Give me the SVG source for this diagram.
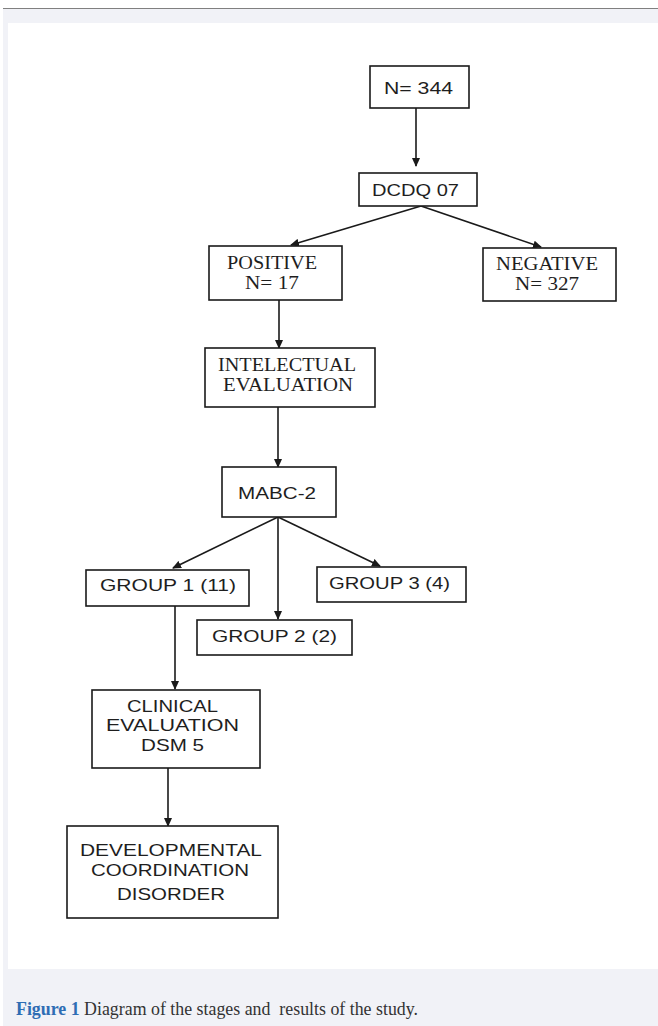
<svg xmlns="http://www.w3.org/2000/svg" width="658" height="1026" viewBox="0 0 658 1026">
<style>
.box{fill:#fff;stroke:#1a1a1a;stroke-width:1.6}
.sans{font-family:"Liberation Sans",Arial,sans-serif;font-size:17px;fill:#1e1e1e}
.serif{font-family:"Liberation Serif","Times New Roman",serif;font-size:18px;fill:#1e1e1e}
.edge{stroke:#1a1a1a;stroke-width:1.6;fill:none;marker-end:url(#ah)}
</style>
<defs>
<marker id="ah" markerWidth="9" markerHeight="9" refX="8" refY="4.5" orient="auto" markerUnits="userSpaceOnUse">
<path d="M0,0.5 L9,4.5 L0,8.5 Z" fill="#1a1a1a"/>
</marker>
</defs>
<rect x="3" y="8" width="655" height="1018" fill="#f1f2f7"/>
<line x1="3" y1="8.5" x2="658" y2="8.5" stroke="#808080" stroke-width="1.2"/>
<rect x="8" y="23" width="650" height="946" fill="#fff"/>

<g id="connectors">
<line class="edge" x1="416" y1="108" x2="416" y2="166"/>
<line class="edge" x1="421" y1="206" x2="291" y2="245"/>
<line class="edge" x1="421" y1="206" x2="541" y2="247"/>
<line class="edge" x1="279" y1="300" x2="279" y2="348"/>
<line class="edge" x1="278" y1="407" x2="278" y2="467"/>
<line class="edge" x1="278" y1="517" x2="173" y2="568"/>
<line class="edge" x1="278" y1="517" x2="278" y2="619"/>
<line class="edge" x1="278" y1="517" x2="380" y2="566"/>
<line class="edge" x1="175" y1="606" x2="175" y2="689"/>
<line class="edge" x1="168" y1="768" x2="168" y2="826"/>
</g>

<g id="n344">
<rect class="box" x="370" y="66" width="99" height="42"/>
<text class="sans" x="384" y="94" textLength="69" lengthAdjust="spacingAndGlyphs">N= 344</text>
</g>
<g id="dcdq">
<rect class="box" x="359" y="173" width="118" height="33"/>
<text class="sans" x="372" y="196" textLength="87" lengthAdjust="spacingAndGlyphs">DCDQ 07</text>
</g>
<g id="positive">
<rect class="box" x="209" y="246" width="133" height="54"/>
<text class="serif" x="227" y="269" textLength="90" lengthAdjust="spacingAndGlyphs">POSITIVE</text>
<text class="serif" x="245" y="289" textLength="54" lengthAdjust="spacingAndGlyphs">N= 17</text>
</g>
<g id="negative">
<rect class="box" x="483" y="248" width="133" height="53"/>
<text class="serif" x="496" y="270" textLength="102" lengthAdjust="spacingAndGlyphs">NEGATIVE</text>
<text class="serif" x="515" y="290" textLength="64" lengthAdjust="spacingAndGlyphs">N= 327</text>
</g>
<g id="intelectual">
<rect class="box" x="205" y="348" width="170" height="59"/>
<text class="serif" x="218" y="371" textLength="138" lengthAdjust="spacingAndGlyphs">INTELECTUAL</text>
<text class="serif" x="223" y="391" textLength="130" lengthAdjust="spacingAndGlyphs">EVALUATION</text>
</g>
<g id="mabc">
<rect class="box" x="222" y="467" width="114" height="50"/>
<text class="sans" x="238" y="499" textLength="78" lengthAdjust="spacingAndGlyphs">MABC-2</text>
</g>
<g id="group1">
<rect class="box" x="86" y="570" width="163" height="36"/>
<text class="sans" x="100" y="591" textLength="136" lengthAdjust="spacingAndGlyphs">GROUP 1 (11)</text>
</g>
<g id="group3">
<rect class="box" x="317" y="567" width="149" height="35"/>
<text class="sans" x="329" y="589" textLength="121" lengthAdjust="spacingAndGlyphs">GROUP 3 (4)</text>
</g>
<g id="group2">
<rect class="box" x="197" y="620" width="155" height="35"/>
<text class="sans" x="212" y="642" textLength="125" lengthAdjust="spacingAndGlyphs">GROUP 2 (2)</text>
</g>
<g id="clinical">
<rect class="box" x="92" y="690" width="168" height="78"/>
<text class="sans" x="127" y="712" textLength="91" lengthAdjust="spacingAndGlyphs">CLINICAL</text>
<text class="sans" x="106" y="731" textLength="133" lengthAdjust="spacingAndGlyphs">EVALUATION</text>
<text class="sans" x="141" y="751" textLength="63" lengthAdjust="spacingAndGlyphs">DSM 5</text>
</g>
<g id="dcd">
<rect class="box" x="67" y="826" width="211" height="92"/>
<text class="sans" x="80" y="856" textLength="182" lengthAdjust="spacingAndGlyphs">DEVELOPMENTAL</text>
<text class="sans" x="91" y="876" textLength="158" lengthAdjust="spacingAndGlyphs">COORDINATION</text>
<text class="sans" x="117" y="900" textLength="108" lengthAdjust="spacingAndGlyphs">DISORDER</text>
</g>

<text x="16" y="1015" font-family="'Liberation Serif','Times New Roman',serif" font-size="18" fill="#333" textLength="402" lengthAdjust="spacingAndGlyphs"><tspan fill="#2e6db4" font-weight="bold">Figure 1</tspan> Diagram of the stages and&#160; results of the study.</text>
</svg>
